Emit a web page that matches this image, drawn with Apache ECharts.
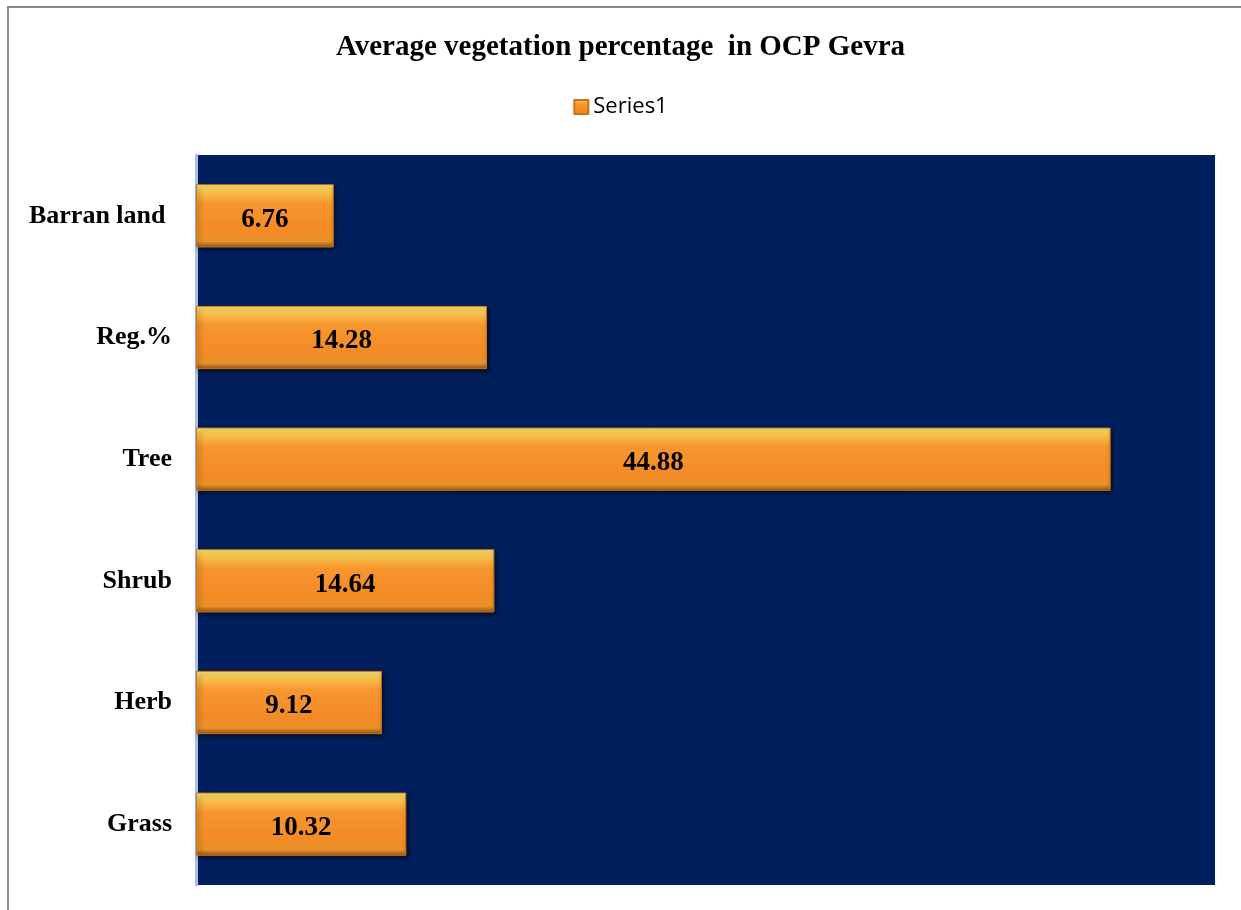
<!DOCTYPE html>
<html>
<head>
<meta charset="utf-8">
<style>
  html, body { margin: 0; padding: 0; background: #fff; }
  #chart { width: 1241px; height: 910px; }
</style>
<script src="https://cdn.jsdelivr.net/npm/echarts@6/dist/echarts.min.js"></script>
</head>
<body>
<div id="chart"></div>
<script>
// categories bottom -> top (ECharts category axis starts at the bottom)
const categories = ['Grass', 'Herb', 'Shrub', 'Tree', 'Reg.%', 'Barran land ']
const series1 = [10.32, 9.12, 14.64, 44.88, 14.28, 6.76]

const chart = echarts.init(document.getElementById('chart'))

const barColor = new echarts.graphic.LinearGradient(0, 0, 0, 1, [
  { offset: 0, color: '#fff07a' },
  { offset: 0.12, color: '#f9c24a' },
  { offset: 0.3, color: '#f7962f' },
  { offset: 0.75, color: '#f38a26' },
  { offset: 0.9, color: '#e8922c' },
  { offset: 1, color: '#9a5412' }
])

chart.setOption({
  animation: false,
  title: {
    text: 'Average vegetation percentage  in OCP Gevra',
    left: 'center',
    top: 28,
    textStyle: {
      fontFamily: 'Liberation Serif',
      fontWeight: 'bold',
      fontSize: 29,
      color: '#000'
    }
  },
  legend: {
    data: ['Series1'],
    top: 91,
    left: 'center',
    icon: 'rect',
    itemWidth: 14,
    itemHeight: 14,
    itemGap: 4,
    textStyle: {
      fontFamily: 'Open Sans',
      fontSize: 22,
      color: '#000'
    }
  },
  graphic: [{
    type: 'polyline',
    shape: { points: [[8, 920], [8, 7], [1250, 7]] },
    style: { stroke: '#8a8a8a', lineWidth: 2, fill: null }
  }],
  grid: {
    left: 196,
    right: 26,
    top: 155,
    bottom: 25,
    show: true,
    backgroundColor: '#001f5c',
    borderWidth: 0
  },
  xAxis: {
    type: 'value',
    min: 0,
    max: 50,
    show: false
  },
  yAxis: {
    type: 'category',
    data: categories,
    axisTick: { show: false },
    axisLine: { show: true, lineStyle: { color: '#aac0e8', width: 3 } },
    axisLabel: {
      margin: 24,
      padding: [6, 0, 0, 0],
      fontFamily: 'Liberation Serif',
      fontWeight: 'bold',
      fontSize: 26,
      color: '#000'
    }
  },
  series: [{
    name: 'Series1',
    type: 'bar',
    data: series1,
    barWidth: '52%',
    itemStyle: {
      color: barColor,
      borderColor: '#c8741c',
      borderWidth: 1,
      shadowColor: 'rgba(0,0,0,0.6)',
      shadowBlur: 5,
      shadowOffsetX: 2,
      shadowOffsetY: 2
    },
    label: {
      show: true,
      position: 'inside',
      offset: [0, 4],
      fontFamily: 'Liberation Serif',
      fontWeight: 'bold',
      fontSize: 27,
      color: '#000',
      formatter: p => p.value.toFixed(2)
    }
  }]
})
</script>
</body>
</html>
